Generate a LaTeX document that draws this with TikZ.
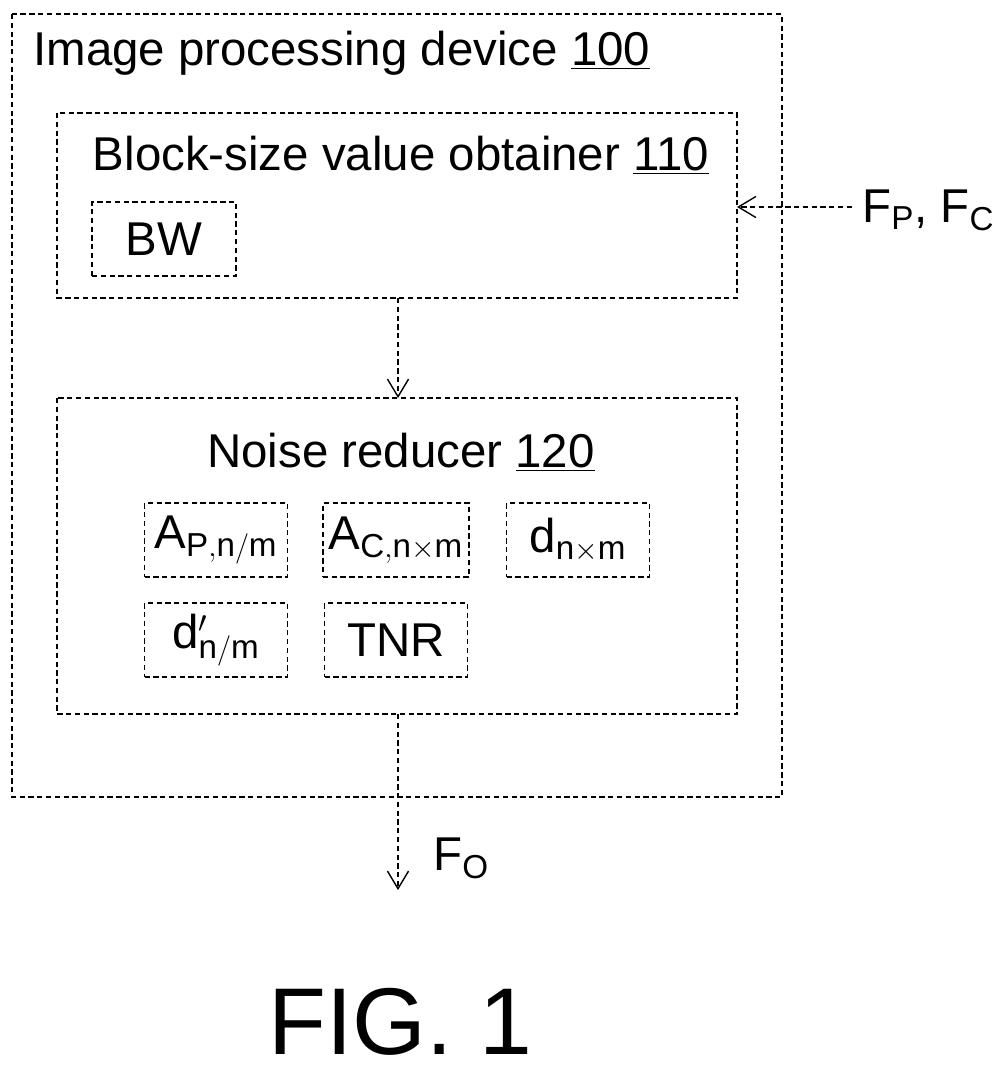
\documentclass[tikz,border=0pt]{standalone}
\usepackage{fontspec}
\setmainfont{Liberation Sans}
\usetikzlibrary{positioning,arrows.meta}
\begin{document}
\begin{tikzpicture}[x=0.02cm,y=-0.02cm,
box/.style={draw,densely dashed,line width=0.8pt},
sub/.style={box,minimum width=2.86cm,minimum height=1.48cm,font=\fontsize{27}{30}\selectfont},
flow/.style={densely dashed,line width=0.8pt,-{Straight Barb[length=10pt,width=12pt]}},
lbl/.style={font=\fontsize{27}{30}\selectfont,inner sep=0pt}]
\useasboundingbox (0,0) rectangle (994,1072);
% frames
\draw[box] (12,14) rectangle (782,797);
\draw[box] (57,113) rectangle (737,298);
\draw[box] (57,398) rectangle (737,714);
\node[lbl,anchor=west] (dev) at (33,53) {Image processing device \underline{100}};
\node[lbl] (obt) at (401,155) {Block-size value obtainer \underline{110}};
\node[lbl] (nr) at (401,452) {Noise reducer \underline{120}};
% inner blocks
\node[sub,minimum width=2.88cm] (bw) at (164,239) {BW};
\node[sub] (ap) at (216,540) {A$_{\mathrm{P,n/m}}$};
\node[sub] (ac) at (396,540) {A$_{\mathrm{C,n\times m}}$};
\node[sub] (dd) at (578,540) {d$_{\mathrm{n\times m}}$};
\node[sub] (dp) at (216,640) {d$'_{\mathrm{n/m}}$};
\node[sub] (tnr) at (396,640) {TNR};
% signals
\coordinate (b110) at (398,298);
\coordinate (t120) at (398,398);
\coordinate (b120) at (398,714);
\coordinate (out) at (398,890);
\coordinate (inp) at (852,207);
\coordinate (r110) at (737,207);
\draw[flow] (b110) -- (t120);
\draw[flow] (inp) -- (r110);
\draw[flow] (b120) -- (out);
\node[lbl,anchor=west] (fin) at (862,210) {F$_{\mathrm{P}}$, F$_{\mathrm{C}}$};
\node[lbl,anchor=west] (fo) at (433,858) {F$_{\mathrm{O}}$};
\node[font=\fontsize{54}{60}\selectfont] (fig) at (400,1022) {FIG. 1};
\end{tikzpicture}
\end{document}
